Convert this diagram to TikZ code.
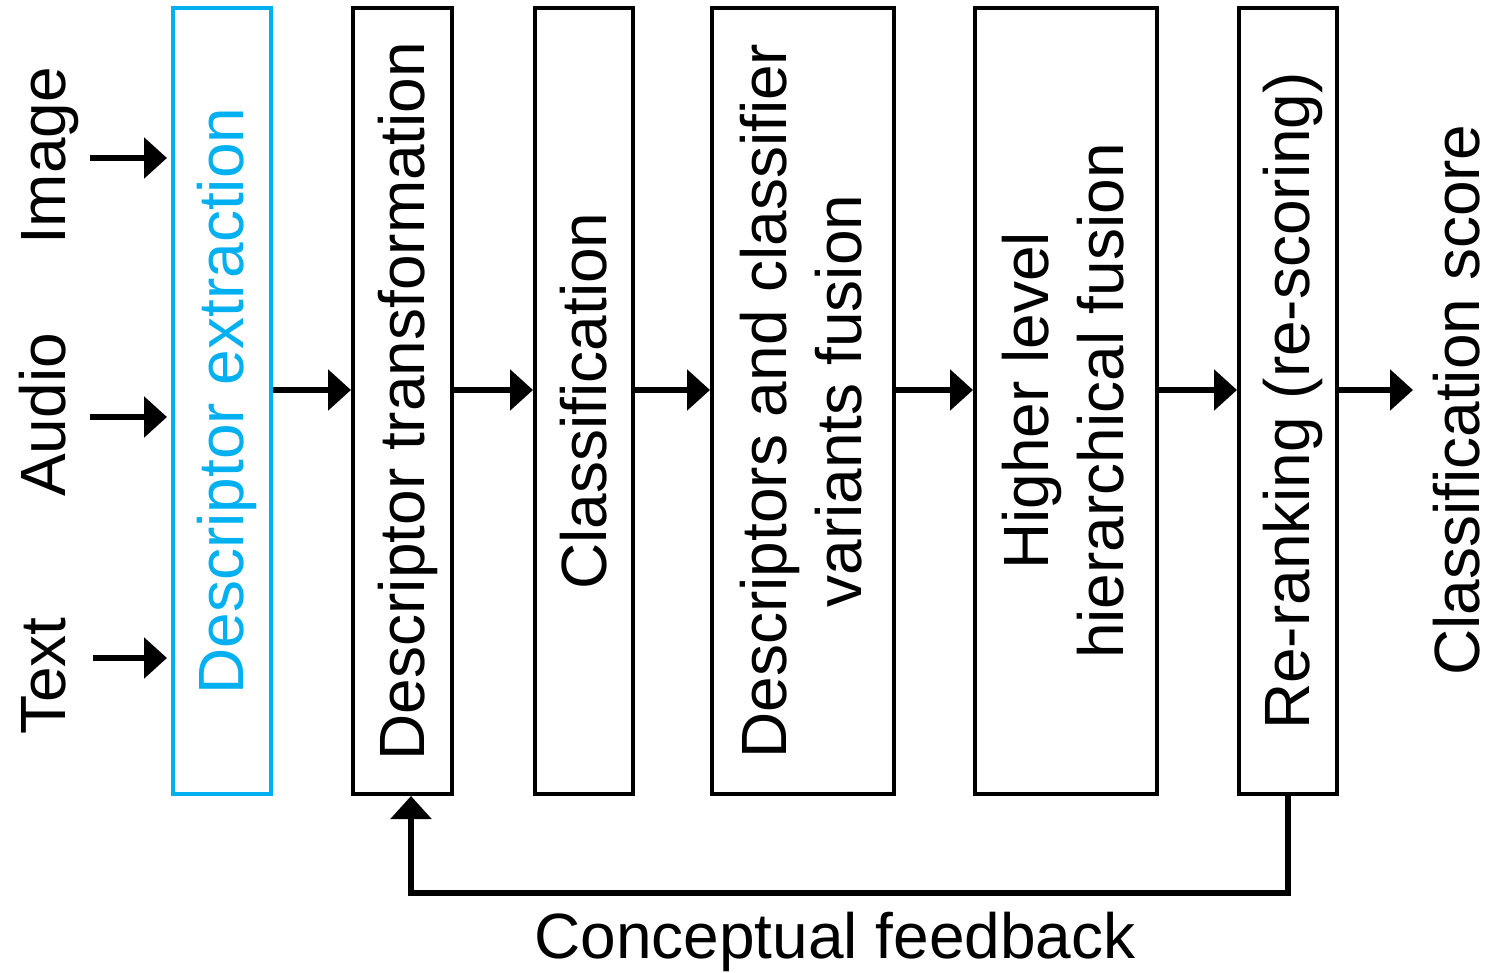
\documentclass[tikz,border=0pt]{standalone}
\usepackage{fontspec}
\setmainfont{Liberation Sans}
\usetikzlibrary{arrows.meta}
\definecolor{skyblue}{HTML}{00B0F0}
\begin{document}
\begin{tikzpicture}[x=0.5pt,y=-0.5pt,
  every node/.style={font=\fontsize{32}{37.5}\selectfont},
  box/.style={draw=black,line width=2pt,rectangle,inner sep=0pt,minimum height=393pt},
  lbl/.style={rotate=90,align=center,inner sep=0pt},
  arr/.style={line width=3pt,-{Triangle[length=11.5pt,width=20pt]}}]
\useasboundingbox (0,0) rectangle (1493,973);
% boxes
\node[box,draw=skyblue,minimum width=49pt] (ext) at (222,401) {};
\node[box,minimum width=49.5pt] (trans) at (402.5,401) {};
\node[box,minimum width=49pt] (cls) at (584,401) {};
\node[box,minimum width=91pt] (fus) at (803,401) {};
\node[box,minimum width=91pt] (hier) at (1066,401) {};
\node[box,minimum width=49pt] (rr) at (1288,401) {};
% box texts
\node[lbl,text=skyblue] (text1) at ([xshift=2.5pt]ext.center) {Descriptor extraction};
\node[lbl] (text2) at ([xshift=2.5pt]trans.center) {Descriptor transformation};
\node[lbl] (text3) at (cls.center) {Classification};
\node[lbl] (text4) at ([xshift=-1pt]fus.center) {Descriptors and classifier\\variants fusion};
\node[lbl] (text5) at ([xshift=-1.5pt]hier.center) {Higher level\\hierarchical fusion};
\node[lbl] (text6) at ([xshift=2.5pt]rr.center) {Re-ranking (re-scoring)};
% inputs
\node[lbl,anchor=base] (img) at (65,156) {Image};
\node[lbl,anchor=base] (aud) at (65,415) {Audio};
\node[lbl,anchor=base] (txt) at (65,676) {Text};
\node[lbl,anchor=base] (score) at (1479,400) {Classification score};
\coordinate (i1) at (90,158);
\coordinate (i2) at (90,417);
\coordinate (i3) at (93,658);
\draw[arr,shorten >=2pt] (i1) -- (ext.west |- i1);
\draw[arr,shorten >=2pt] (i2) -- (ext.west |- i2);
\draw[arr,shorten >=2pt] (i3) -- (ext.west |- i3);
% main arrows
\coordinate (ay) at (0,390);
\draw[arr] (ext.east |- ay) -- (trans.west |- ay);
\draw[arr] (trans.east |- ay) -- (cls.west |- ay);
\draw[arr] (cls.east |- ay) -- (fus.west |- ay);
\draw[arr] (fus.east |- ay) -- (hier.west |- ay);
\draw[arr] (hier.east |- ay) -- (rr.west |- ay);
\coordinate (out) at (1413,390);
\draw[arr] (rr.east |- ay) -- (out);
% feedback
\coordinate (fbx) at (411,893);
\draw[arr] (rr.south) -- (rr.south |- fbx) -- (fbx) -- (fbx |- trans.south);
\node[anchor=base,inner sep=0pt] (fbl) at (835,958) {Conceptual feedback};
\end{tikzpicture}
\end{document}
